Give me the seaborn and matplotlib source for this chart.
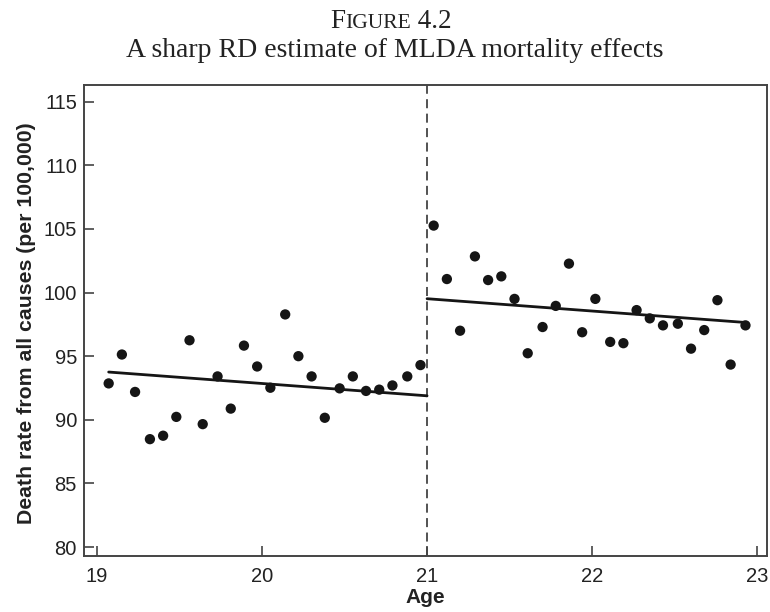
import numpy as np
import pandas as pd
import matplotlib
matplotlib.use("Agg")
import matplotlib.pyplot as plt
import seaborn as sns

# ---- data ----
age_below = [19.07, 19.15, 19.23, 19.32, 19.40, 19.48, 19.56, 19.64, 19.73, 19.81,
             19.89, 19.97, 20.05, 20.14, 20.22, 20.30, 20.38, 20.47, 20.55, 20.63,
             20.71, 20.79, 20.88, 20.96]
rate_below = [92.86, 95.13, 92.19, 88.48, 88.75, 90.23, 96.25, 89.66, 93.41, 90.88,
              95.83, 94.19, 92.52, 98.28, 95.00, 93.41, 90.16, 92.47, 93.41, 92.27,
              92.37, 92.70, 93.41, 94.30]
age_above = [21.04, 21.12, 21.20, 21.29, 21.37, 21.45, 21.53, 21.61, 21.70, 21.78,
             21.86, 21.94, 22.02, 22.11, 22.19, 22.27, 22.35, 22.43, 22.52, 22.60,
             22.68, 22.76, 22.84, 22.93]
rate_above = [105.26, 101.06, 97.00, 102.84, 100.98, 101.27, 99.50, 95.23, 97.29, 98.95,
              102.27, 96.88, 99.50, 96.12, 96.02, 98.62, 97.97, 97.42, 97.55, 95.59,
              97.05, 99.40, 94.34, 97.42]
cutoff = 21
x_ticks = [19, 20, 21, 22, 23]
y_ticks = [80, 85, 90, 95, 100, 105, 110, 115]

df = pd.DataFrame({
    "age": age_below + age_above,
    "rate": rate_below + rate_above,
})
df["over"] = (df["age"] >= cutoff).astype(float)

# sharp RD: common slope, jump at cutoff
X = np.column_stack([np.ones(len(df)), df["over"], df["age"] - cutoff])
beta, *_ = np.linalg.lstsq(X, df["rate"].to_numpy(), rcond=None)

def fitted(a, over):
    a = np.asarray(a, dtype=float)
    return beta[0] + beta[1] * over + beta[2] * (a - cutoff)

fit_left = pd.DataFrame({"age": [min(age_below), cutoff]})
fit_left["rate"] = fitted(fit_left["age"], 0.0)
fit_right = pd.DataFrame({"age": [cutoff, max(age_above)]})
fit_right["rate"] = fitted(fit_right["age"], 1.0)

# ---- plot ----
sns.set_style("white")
plt.rcParams["font.family"] = ["Liberation Sans", "DejaVu Sans"]

fig = plt.figure(figsize=(7.7, 6.12), dpi=100)
ax = fig.add_axes([0.109, 0.0915, 0.887, 0.7695])

ax.axvline(cutoff, color="#444444", lw=1.3, ls=(0, (5, 3)), zorder=1)
sns.scatterplot(data=df, x="age", y="rate", ax=ax, color="#151515", s=55,
                edgecolor="none", zorder=3, legend=False)
sns.lineplot(data=fit_left, x="age", y="rate", ax=ax, color="#151515", lw=2.0, zorder=2)
sns.lineplot(data=fit_right, x="age", y="rate", ax=ax, color="#151515", lw=2.0, zorder=2)

ax.set_xlim(18.92, 23.06)
ax.set_ylim(79.3, 116.3)
ax.set_xticks(x_ticks)
ax.set_yticks(y_ticks)
ax.set_xticklabels([str(t) for t in x_ticks])
ax.set_yticklabels([str(t) for t in y_ticks])
ax.tick_params(axis="both", direction="in", length=7, width=1.2, color="#444444",
               labelsize=14.5, labelcolor="#222222", bottom=True, left=True,
               top=False, right=False)
ax.tick_params(axis="x", pad=8)
ax.tick_params(axis="y", pad=5)
for s in ax.spines.values():
    s.set_visible(True)
    s.set_color("#444444")
    s.set_linewidth(1.4)

ax.set_xlabel("Age", fontsize=15, fontweight="bold", color="#222222", labelpad=1)
ax.set_ylabel("Death rate from all causes (per 100,000)", fontsize=15.3,
              fontweight="bold", color="#222222")
ax.yaxis.set_label_coords(-0.07, 0.495)

# title with small caps "Figure"
serif = ["Liberation Serif", "DejaVu Serif"]
fig.canvas.draw()
r = fig.canvas.get_renderer()
parts = [("F", 19.5), ("IGURE", 15.5), (" 4.2", 19.5)]
texts = []
for s, fs in parts:
    t = fig.text(0, 0.954, s, fontsize=fs, family=serif, color="#222222", va="baseline")
    texts.append(t)
widths = [t.get_window_extent(r).width for t in texts]
total = sum(widths)
x = 0.508 * fig.bbox.width - total / 2
for t, w in zip(texts, widths):
    t.set_x(x / fig.bbox.width)
    x += w
fig.text(0.513, 0.907, "A sharp RD estimate of MLDA mortality effects", fontsize=20,
         family=serif, color="#222222", ha="center", va="baseline")

fig.savefig("out.png", dpi=100)
